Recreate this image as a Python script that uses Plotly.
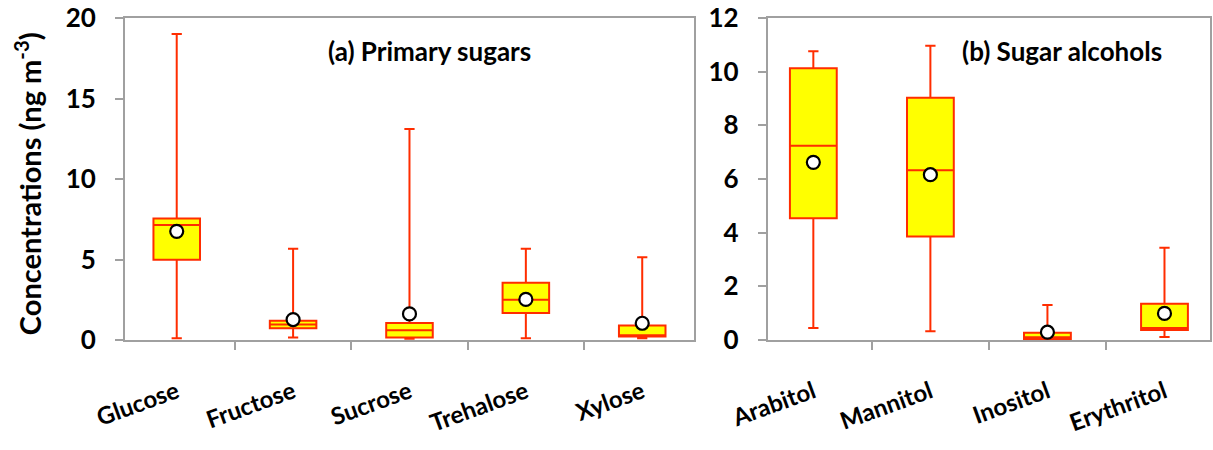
import plotly.graph_objects as go

# Primary sugars (ng m-3)
sugar_names = ["Glucose", "Fructose", "Sucrose", "Trehalose", "Xylose"]
sugar_min = [0.11, 0.15, 0.08, 0.11, 0.11]
sugar_q1 = [4.99, 0.73, 0.15, 1.68, 0.22]
sugar_median = [7.14, 0.96, 0.61, 2.50, 0.30]
sugar_q3 = [7.55, 1.19, 1.06, 3.55, 0.90]
sugar_max = [19.0, 5.66, 13.1, 5.67, 5.14]
sugar_mean = [6.75, 1.27, 1.62, 2.52, 1.04]

# Sugar alcohols (ng m-3)
alcohol_names = ["Arabitol", "Mannitol", "Inositol", "Erythritol"]
alcohol_min = [0.45, 0.33, 0.02, 0.11]
alcohol_q1 = [4.54, 3.86, 0.04, 0.37]
alcohol_median = [7.24, 6.33, 0.10, 0.45]
alcohol_q3 = [10.13, 9.03, 0.27, 1.35]
alcohol_max = [10.76, 10.97, 1.30, 3.44]
alcohol_mean = [6.62, 6.16, 0.29, 0.99]

RED = "#FF2D00"
YELLOW = "#FFFF00"
AXIS = "#A0A0A0"
FONT = "Lato"

W, H = 1213, 450
ML, MR, MT, MB = 125, 1, 16, 110
PLOT_W = W - ML - MR
PLOT_H = H - MT - MB

fig = go.Figure()


def add_panel(names, lo, q1, med, q3, hi, mean, xa, ya):
    fig.add_trace(go.Box(
        x=names, q1=q1, median=med, q3=q3, lowerfence=lo, upperfence=hi,
        fillcolor=YELLOW, line=dict(color=RED, width=2),
        whiskerwidth=0.22, width=0.4, boxpoints=False,
        xaxis=xa, yaxis=ya, showlegend=False, hoverinfo="skip",
    ))
    fig.add_trace(go.Scatter(
        x=names, y=mean, mode="markers",
        marker=dict(symbol="circle", size=13, color="white",
                    line=dict(color="black", width=2.2)),
        xaxis=xa, yaxis=ya, showlegend=False, hoverinfo="skip",
    ))


add_panel(sugar_names, sugar_min, sugar_q1, sugar_median, sugar_q3,
          sugar_max, sugar_mean, "x", "y")
add_panel(alcohol_names, alcohol_min, alcohol_q1, alcohol_median, alcohol_q3,
          alcohol_max, alcohol_mean, "x2", "y2")

xcommon = dict(
    type="category", showline=True, linecolor=AXIS, linewidth=2, mirror=True,
    ticks="outside", tickson="boundaries", ticklen=8, tickcolor=AXIS,
    tickwidth=2, tickangle=-20, showgrid=False, zeroline=False,
    ticklabelstandoff=27, ticklabeloverflow="allow",
    tickfont=dict(family=FONT, size=24, color="black", weight="bold"),
)
ycommon = dict(
    showline=True, linecolor=AXIS, linewidth=2, mirror=True,
    ticks="outside", ticklen=8, tickcolor=AXIS, tickwidth=2,
    showgrid=False, zeroline=False, ticklabelstandoff=14,
    ticklabeloverflow="allow",
    tickfont=dict(family=FONT, size=26, color="black", weight="bold"),
)


def px_x(px):
    return (px - ML) / PLOT_W


def px_y(py):
    return 1 - (py - MT) / PLOT_H


title_font = dict(family=FONT, size=26, color="black", weight="bold")

fig.update_layout(
    width=W, height=H,
    margin=dict(l=ML, r=MR, t=MT, b=MB),
    paper_bgcolor="white", plot_bgcolor="white",
    xaxis=dict(domain=[0, px_x(695)], anchor="y", **xcommon),
    xaxis2=dict(domain=[px_x(769), 1.0], anchor="y2", **xcommon),
    yaxis=dict(domain=[0, 1], anchor="x", range=[0, 20], dtick=5, **ycommon),
    yaxis2=dict(domain=[0, 1], anchor="x2", range=[0, 12], dtick=2, **ycommon),
    annotations=[
        dict(text="(a) Primary sugars", x=px_x(430), y=px_y(49),
             xref="paper", yref="paper", xanchor="center", yanchor="middle",
             showarrow=False, font=title_font),
        dict(text="(b) Sugar alcohols", x=px_x(1064), y=px_y(49),
             xref="paper", yref="paper", xanchor="center", yanchor="middle",
             showarrow=False, font=title_font),
        dict(text="Concentrations (ng m<sup>-3</sup>)", textangle=-90,
             x=px_x(28), y=px_y(183),
             xref="paper", yref="paper", xanchor="center", yanchor="middle",
             showarrow=False,
             font=dict(family=FONT, size=29, color="black", weight="bold")),
    ],
)

fig.write_html("out.html")
